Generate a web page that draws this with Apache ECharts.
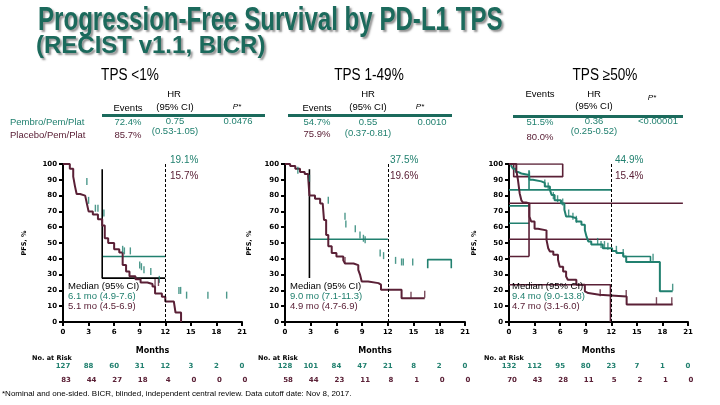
<!DOCTYPE html>
<html><head><meta charset="utf-8">
<script src="https://cdn.jsdelivr.net/npm/echarts@6/dist/echarts.min.js"></script>
<style>html,body{margin:0;padding:0;background:#fff}#c{width:720px;height:405px}</style>
</head><body><div id="c"></div>
<script>
const TEAL = '#21806f', MAROON = '#5a2036', TITLEC = '#1b6a5c';

// ---------- shared axes ----------
const monthTicks = [0, 3, 6, 9, 12, 15, 18, 21];
const panelTitles = ['TPS <1%', 'TPS 1-49%', 'TPS \u226550%'];

// ---------- Panel 1 : TPS <1% ----------
const p1Events = ['72.4%', '85.7%'];
const p1HR = ['0.75', '(0.53-1.05)'];
const p1P = '0.0476';
const p1Landmark = ['19.1%', '15.7%'];
const p1Median = ['6.1 mo (4.9-7.6)', '5.1 mo (4.5-6.9)'];
const p1RiskPembro = [127, 88, 60, 31, 12, 3, 2, 0];
const p1RiskPlacebo = [83, 44, 27, 18, 4, 0, 0, 0];
const p1PembroKM = [];
const p1PlaceboKM = [[0,100],[0.8,97],[1.2,92],[1.4,86],[1.6,81],[2.0,80],[2.6,79],[2.8,75],[3.0,70],[3.5,68],[4.1,65],[4.6,61],[4.9,53],[5.3,50],[6.0,46],[6.6,44],[7.0,36],[7.4,32],[7.8,29],[8.5,27],[9.1,25],[9.9,24],[10.5,22.5],[10.8,18],[11.6,16],[12.0,13],[13.0,12],[13.2,6],[13.85,0]];
const p1PembroTicks = [[2.8,89],[3.0,77],[3.8,72],[4.1,72],[4.8,69],[7.0,46],[7.2,45],[7.9,45],[9.0,36],[9.2,35],[9.5,33],[10.3,32],[11.3,27],[13.6,20],[13.8,20],[14.5,17],[17.0,17],[19.2,17]];
const p1PlaceboTicks = [[10.8,25],[11.2,25]];
const p1PembroSeg = [[[4.6,41.5],[12,41.5]]];
const p1PlaceboSeg = [];
const p1BlackSeg = [[[4.6,96.6],[4.6,27.8],[12,27.8]]];

// ---------- Panel 2 : TPS 1-49% ----------
const p2Events = ['54.7%', '75.9%'];
const p2HR = ['0.55', '(0.37-0.81)'];
const p2P = '0.0010';
const p2Landmark = ['37.5%', '19.6%'];
const p2Median = ['9.0 mo (7.1-11.3)', '4.9 mo (4.7-6.9)'];
const p2RiskPembro = [128, 101, 84, 47, 21, 8, 2, 0];
const p2RiskPlacebo = [58, 44, 23, 11, 8, 1, 0, 0];
const p2PembroKM = [];
const p2PlaceboKM = [[0,100],[0.6,98.7],[1.2,97],[1.75,95],[2.3,93.7],[2.7,92],[2.85,80],[3.5,78],[4.1,75],[4.4,74],[4.55,64.6],[4.8,55],[5.05,48],[5.45,43.6],[6.0,41.5],[6.8,39],[7.0,37],[8.0,36],[8.55,33],[8.75,30],[8.95,25.7],[9.7,24.6],[10.9,23.6],[11.2,20.4],[13.6,15],[16.3,15]];
const p2PembroTicks = [[1.5,96],[2.85,91],[5.05,77],[7.0,67],[7.1,62],[8.2,59],[8.75,55],[9.15,53],[9.35,52],[11.1,43.6],[11.5,42],[12.9,39],[13.6,38],[13.8,38],[14.9,38]];
const p2PlaceboTicks = [[7.0,39],[14.7,17],[16.3,17.5]];
const p2PembroSeg = [[[2.85,52.4],[12,52.4]], [[16.65,34],[16.65,39.5],[19.4,39.5],[19.4,34]]];
const p2PlaceboSeg = [];
const p2BlackSeg = [[[2.85,96.6],[2.85,27.8]]];

// ---------- Panel 3 : TPS >=50% ----------
const p3Events = ['51.5%', '80.0%'];
const p3HR = ['0.36', '(0.25-0.52)'];
const p3P = '<0.00001';
const p3Landmark = ['44.9%', '15.4%'];
const p3Median = ['9.4 mo (9.0-13.8)', '4.7 mo (3.1-6.0)'];
const p3RiskPembro = [132, 112, 95, 80, 23, 7, 1, 0];
const p3RiskPlacebo = [70, 43, 28, 11, 5, 2, 1, 0];
const p3PembroKM = [[0,100],[0.27,98.7],[0.47,97],[0.78,95],[1.05,94],[1.45,93],[2.35,92],[2.4,90],[2.8,89],[3.8,88],[4.2,85.7],[4.8,83.6],[5.0,80.4],[5.35,77],[6.1,75],[6.5,71],[6.7,66.7],[7.3,65.7],[7.9,63.6],[8.5,61.5],[8.9,58],[9.1,54],[9.3,51],[9.65,49],[11.0,46.7],[12.1,45],[12.6,43.6],[13.4,41.5],[13.75,38],[17.7,19.4],[19.2,19.4]];
const p3PlaceboKM = [[0,100],[0.86,96],[1.05,90],[1.25,81.5],[1.45,77],[1.65,75.6],[2.0,75],[2.4,66.7],[2.6,63.6],[3.0,59],[3.4,58],[4.4,52],[4.6,46.7],[4.8,44.6],[5.2,42.5],[5.75,39.4],[5.95,35],[6.35,32],[6.7,28.8],[6.9,26.7],[7.9,23.6],[8.9,19.4],[9.1,18.3],[9.3,17.3],[10.6,16.2],[13.8,11],[19.2,11]];
const p3PembroTicks = [[2.4,93],[4.2,88],[4.6,86],[5.2,80],[5.7,78],[6.3,76],[7.0,69],[7.5,67],[7.9,65],[10.4,51],[10.8,49],[11.2,49],[11.6,48],[12.6,46],[13.4,44],[16.9,41],[19.2,22]];
const p3PlaceboTicks = [[10.7,18.5],[13.75,18],[17.3,13.5],[19.1,13.5]];
const p3PembroSeg = [[[0,83.6],[12,83.6]], [[0,73.5],[2.35,73.5]], [[0,62.5],[2.35,62.5]], [[2.35,96],[2.35,83.6]], [[13.4,41.5],[16.6,41.5],[16.6,37.5]]];
const p3PlaceboSeg = [[[0.55,100],[6.3,100],[6.3,92],[0.55,92],[0.55,100]], [[0,75.2],[20.4,75.2]], [[0,52.4],[12,52.4]], [[0,41.5],[2.35,41.5]], [[2.35,75.2],[2.35,41.5]], [[0,23.6],[11.9,23.6],[11.9,0]]];
const p3BlackSeg = [];

const panels = [
  {left:63, width:179, km:[p1PembroKM,p1PlaceboKM], ticks:[p1PembroTicks,p1PlaceboTicks], seg:[p1PembroSeg,p1PlaceboSeg,p1BlackSeg], risk:[p1RiskPembro,p1RiskPlacebo], nameGap:35},
  {left:285, width:180, km:[p2PembroKM,p2PlaceboKM], ticks:[p2PembroTicks,p2PlaceboTicks], seg:[p2PembroSeg,p2PlaceboSeg,p2BlackSeg], risk:[p2RiskPembro,p2RiskPlacebo], nameGap:32},
  {left:509, width:179, km:[p3PembroKM,p3PlaceboKM], ticks:[p3PembroTicks,p3PlaceboTicks], seg:[p3PembroSeg,p3PlaceboSeg,p3BlackSeg], risk:[p3RiskPembro,p3RiskPlacebo], nameGap:31}
];

const axisFont = {fontSize:7, fontWeight:'bold', fontFamily:'DejaVu Sans', color:'#000'};
const grid = [], xAxis = [], yAxis = [], series = [];
panels.forEach((p, i) => {
  grid.push({left:p.left, top:164, width:p.width, height:158, containLabel:false});
  xAxis.push({type:'value', gridIndex:i, min:0, max:21, interval:3,
    name:'Months', nameLocation:'middle', nameGap:25,
    nameTextStyle:{fontSize:8, fontWeight:'bold', fontFamily:'DejaVu Sans', color:'#000'},
    axisLine:{lineStyle:{color:'#000', width:2}}, axisTick:{length:4, lineStyle:{color:'#000', width:2}},
    axisLabel:Object.assign({margin:7}, axisFont), splitLine:{show:false}});
  yAxis.push({type:'value', gridIndex:i, min:0, max:100, interval:10,
    name:'PFS, %', nameLocation:'middle', nameGap:p.nameGap, nameRotate:90,
    nameTextStyle:{fontSize:6.5, fontWeight:'bold', fontFamily:'DejaVu Sans', color:'#000'},
    axisLine:{show:true, lineStyle:{color:'#000', width:2}}, axisTick:{show:true, length:4, lineStyle:{color:'#000', width:2}},
    axisLabel:Object.assign({margin:6}, axisFont), splitLine:{show:false}});
  const cols = [TEAL, MAROON, '#000'];
  p.seg.forEach((segs, k) => segs.forEach(s => series.push({type:'line', xAxisIndex:i, yAxisIndex:i, data:s,
    showSymbol:false, silent:true, lineStyle:{color:cols[k], width:1.6}, z:2})));
  p.km.forEach((d, k) => { if (d.length) series.push({type:'line', step:'end', xAxisIndex:i, yAxisIndex:i, data:d,
    showSymbol:false, lineStyle:{color:cols[k], width:2}, z:3,
    markLine: k===1 ? {silent:true, symbol:'none', label:{show:false}, lineStyle:{color:'#000', type:[3,2], width:1}, data:[{xAxis:12}]} : undefined}); });
  p.ticks.forEach((d, k) => series.push({type:'scatter', xAxisIndex:i, yAxisIndex:i, data:d, symbol:'rect',
    symbolSize:[1.4,7], itemStyle:{color:cols[k]}, z:4}));
});

function T(x, y, text, o) {
  o = o || {};
  const st = {text:text, fill:o.c || '#000', font:o.f || '9.5px "Liberation Sans", Arial, sans-serif',
      textAlign:o.a || 'center', textVerticalAlign:'middle'};
  if (o.sh) { st.shadowColor = o.sh; st.shadowOffsetX = 2; st.shadowOffsetY = 2; st.shadowBlur = 2;
    st.textShadowColor = o.sh; st.textShadowOffsetX = 2; st.textShadowOffsetY = 2; st.textShadowBlur = 2; }
  return {type:'text', x:x, y:y, z:100, scaleX:o.sx || 1, style:st};
}

const g = [];
g.push(T(38, 21, 'Progression-Free Survival by PD-L1 TPS', {a:'left', c:TITLEC, f:'bold 33px "Liberation Sans", Arial', sx:0.73, sh:'rgba(110,110,110,0.75)'}));
g.push(T(36, 46, '(RECIST v1.1, BICR)', {a:'left', c:TITLEC, f:'bold 24px "Liberation Sans", Arial', sx:1.0, sh:'rgba(110,110,110,0.75)'}));
const hdrX = [130, 369, 605];
panelTitles.forEach((t, i) => g.push(T(hdrX[i], 76, t, {f:'16px "Liberation Sans", Arial', sx:0.85})));

g.push(T(10, 122, 'Pembro/Pem/Plat', {a:'left', c:TEAL}));
g.push(T(10, 135, 'Placebo/Pem/Plat', {a:'left', c:MAROON}));

const tbl = [
  {ev:[128,108], hr:[174,94], ci:[175,107], p:[237,107], line:[102,265,114], e1:[128,122], e2:[128,135], v1:[175,121], v2:[175,131], pv:[238,121], E:p1Events, H:p1HR, P:p1P},
  {ev:[317,108], hr:[368,94], ci:[368,107], p:[420,107], line:[288,452,114], e1:[317,122], e2:[317,134], v1:[368,122], v2:[368,133], pv:[432,122], E:p2Events, H:p2HR, P:p2P},
  {ev:[540,94], hr:[594,94], ci:[594,106], p:[652,98], line:[513,683,115], e1:[540,122], e2:[540,137], v1:[594,121], v2:[594,131], pv:[658,121], E:p3Events, H:p3HR, P:p3P}
];
tbl.forEach(t => {
  g.push(T(t.ev[0], t.ev[1], 'Events'));
  g.push(T(t.hr[0], t.hr[1], 'HR'));
  g.push(T(t.ci[0], t.ci[1], '(95% CI)'));
  g.push(T(t.p[0], t.p[1], 'P*', {f:'italic 8px "Liberation Sans", Arial'}));
  g.push({type:'rect', z:100, shape:{x:t.line[0], y:t.line[2], width:t.line[1]-t.line[0], height:3}, style:{fill:TITLEC}});
  g.push(T(t.e1[0], t.e1[1], t.E[0], {c:TEAL}));
  g.push(T(t.e2[0], t.e2[1], t.E[1], {c:MAROON}));
  g.push(T(t.v1[0], t.v1[1], t.H[0], {c:TEAL}));
  g.push(T(t.v2[0], t.v2[1], t.H[1], {c:TEAL}));
  g.push(T(t.pv[0], t.pv[1], t.P, {c:TEAL}));
});

const lmX = [170, 390, 615], medX = [68, 290, 512];
[[p1Landmark, p1Median], [p2Landmark, p2Median], [p3Landmark, p3Median]].forEach((pm, i) => {
  g.push(T(lmX[i], 160, pm[0][0], {a:'left', c:TEAL, f:'10px "Liberation Sans", Arial'}));
  g.push(T(lmX[i], 176, pm[0][1], {a:'left', c:MAROON, f:'10px "Liberation Sans", Arial'}));
  g.push(T(medX[i], 286, 'Median (95% CI)', {a:'left'}));
  g.push(T(medX[i], 296, pm[1][0], {a:'left', c:TEAL}));
  g.push(T(medX[i], 306, pm[1][1], {a:'left', c:MAROON}));
});

const nrX = [32, 258, 484];
nrX.forEach(x => g.push(T(x, 358, 'No. at Risk', {a:'left', f:'bold 6.5px "DejaVu Sans"'})));
g.push(T(2, 394, '*Nominal and one-sided. BICR, blinded, independent central review. Data cutoff date: Nov 8, 2017.', {a:'left', f:'8px "Liberation Sans", Arial'}));

const chart = echarts.init(document.getElementById('c'), null, {renderer:'canvas'});
chart.setOption({animation:false, grid:grid, xAxis:xAxis, yAxis:yAxis, series:series});

panels.forEach((p, i) => {
  p.risk.forEach((row, k) => row.forEach((v, j) => {
    const px = chart.convertToPixel({xAxisIndex:i}, monthTicks[j]);
    g.push(T(px + (k ? 3 : 0), k ? 380 : 366, String(v), {c:k ? MAROON : TEAL, f:'bold 7px "DejaVu Sans"'}));
  }));
});
chart.setOption({graphic:g});
</script></body></html>
